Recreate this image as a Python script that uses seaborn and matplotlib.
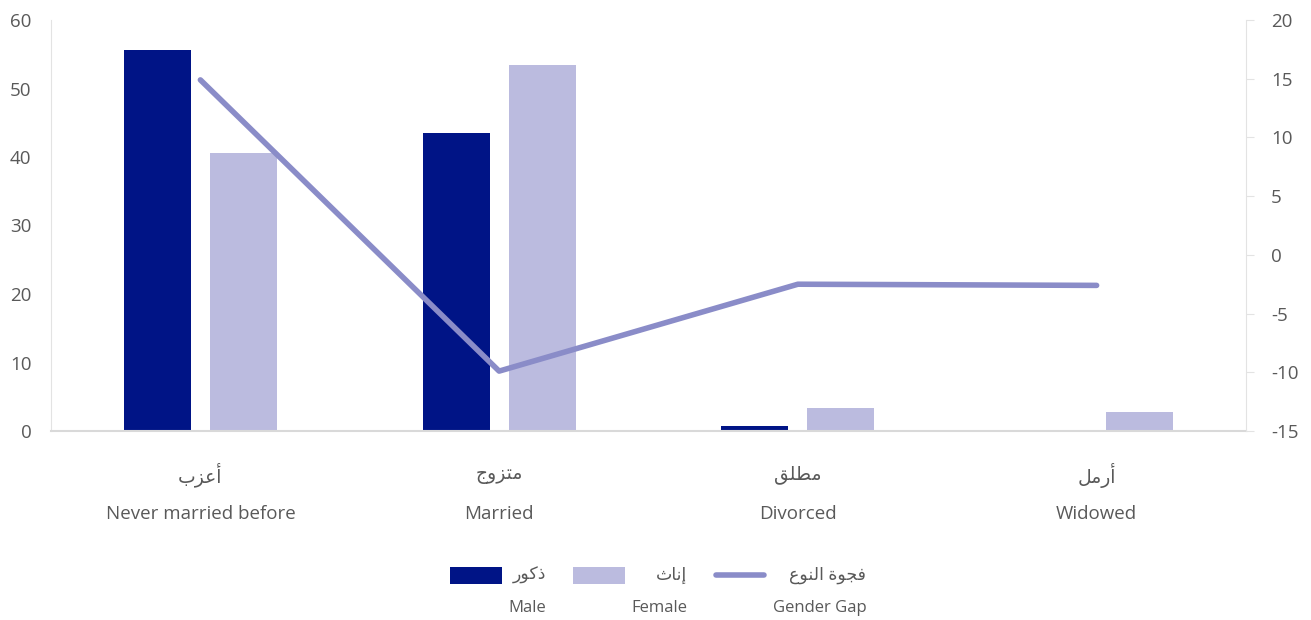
import numpy as np
import pandas as pd
import matplotlib
matplotlib.use("Agg")
import matplotlib.pyplot as plt
import matplotlib.transforms as mtransforms
from matplotlib.patches import Rectangle
from matplotlib.lines import Line2D
import seaborn as sns

# ----------------------------
# Data
# ----------------------------
categories_en = ["Never married before", "Married", "Divorced", "Widowed"]
# Arabic labels written with presentation forms in visual order,
# since matplotlib does no Arabic shaping / right-to-left layout itself
categories_ar = [
    "\ufe8f\ufeb0\ufecb\ufe83",        # أعزب
    "\ufe9d\ufeed\ufeb0\ufe98\ufee3",  # متزوج
    "\ufed6\ufee0\ufec4\ufee3",        # مطلق
    "\ufede\ufee3\ufead\ufe83",        # أرمل
]
male = [55.6, 43.5, 0.8, 0.0]
female = [40.6, 53.4, 3.4, 2.8]
gender_gap = [14.9, -9.9, -2.5, -2.6]

series_en = ["Male", "Female", "Gender Gap"]
series_ar = [
    "\ufead\ufeee\ufedb\ufeab",        # ذكور
    "\ufe99\ufe8e\ufee7\ufe87",        # إناث
    "\ufec9\ufeee\ufee8\ufedf\ufe8d \ufe93\ufeee\ufea0\ufed3",  # فجوة النوع
]

# ----------------------------
# Style
# ----------------------------
c_male = "#001486"
c_female = "#BBBBDF"
c_gap = "#8A8CC8"
c_text = "#595959"
c_spine = "#E3E3E3"

sns.set_style("white")
plt.rcParams["font.family"] = ["Open Sans", "DejaVu Sans"]
plt.rcParams["axes.unicode_minus"] = False

W, H = 1311, 620
fig = plt.figure(figsize=(W / 100, H / 100), dpi=100)
ax = fig.add_axes([51 / W, 1 - 431 / H, (1246 - 51) / W, 411 / H])

# ----------------------------
# Bars (left axis)
# ----------------------------
df = pd.DataFrame({
    "category": categories_en * 2,
    "sex": ["Male"] * len(male) + ["Female"] * len(female),
    "value": male + female,
})
sns.barplot(data=df, x="category", y="value", hue="sex",
            order=categories_en, hue_order=["Male", "Female"],
            palette=[c_male, c_female], saturation=1,
            width=0.576, gap=0.221,
            linewidth=0, errorbar=None, legend=False, ax=ax)
ax.set_xlim(-0.5, len(categories_en) - 0.5)
ax.set_ylim(0, 60)
ax.set_yticks(range(0, 61, 10))
ax.set_xlabel("")
ax.set_ylabel("")
ax.set_xticks(range(len(categories_en)))
ax.set_xticklabels([])
ax.tick_params(axis="x", length=0)
ax.tick_params(axis="y", length=0, pad=14, labelsize=13.5, labelcolor=c_text)
for s in ["top", "right"]:
    ax.spines[s].set_visible(False)
ax.spines["left"].set_color(c_spine)
ax.spines["left"].set_linewidth(0.8)
ax.spines["bottom"].set_color("#D9D9D9")
ax.spines["bottom"].set_linewidth(1.5)

# ----------------------------
# Gender gap line (right axis)
# ----------------------------
ax2 = ax.twinx()
sns.lineplot(x=np.arange(len(gender_gap)), y=gender_gap, ax=ax2,
             color=c_gap, linewidth=4, solid_capstyle="round")
ax2.set_ylim(-15, 20)
ax2.set_yticks(range(-15, 21, 5))
ax2.set_ylabel("")
ax2.tick_params(axis="y", length=6, width=0.8, color=c_spine, pad=12,
                labelsize=13.5, labelcolor=c_text)
for s in ["top", "left", "bottom"]:
    ax2.spines[s].set_visible(False)
ax2.spines["right"].set_color(c_spine)
ax2.spines["right"].set_linewidth(0.8)

# ----------------------------
# Category labels (Arabic above English)
# ----------------------------
trans = mtransforms.blended_transform_factory(ax.transData, ax.transAxes)
for i, (ar, en) in enumerate(zip(categories_ar, categories_en)):
    ax.text(i, -44 / 411, ar, transform=trans, ha="center", va="center",
            fontsize=13.5, color=c_text)
    ax.text(i, -83 / 411, en, transform=trans, ha="center", va="center",
            fontsize=13.5, color=c_text)

# ----------------------------
# Legend: swatch, Arabic label beside it, English label underneath,
# both labels right-aligned (laid out by hand in pixel units)
# ----------------------------
def fx(px):
    return px / W

def fy(py):
    return 1 - py / H

renderer = fig.canvas.get_renderer()
ar_texts = [fig.text(0, fy(575), s, ha="right", va="center", fontsize=12.5,
                     color=c_text) for s in series_ar]
en_texts = [fig.text(0, fy(608), s, ha="right", va="center", fontsize=12,
                     color=c_text) for s in series_en]
box_w = [max(a.get_window_extent(renderer).width, e.get_window_extent(renderer).width)
         for a, e in zip(ar_texts, en_texts)]

handle_w, handle_h, text_pad, col_gap = 52, 17, 7, 26
total = sum(handle_w + text_pad + b for b in box_w) + col_gap * (len(box_w) - 1)
x = 658 - total / 2
for k, (a, e, b) in enumerate(zip(ar_texts, en_texts, box_w)):
    if k < 2:
        fig.add_artist(Rectangle((fx(x), fy(575 + handle_h / 2)), fx(handle_w),
                                 handle_h / H, transform=fig.transFigure,
                                 facecolor=[c_male, c_female][k], linewidth=0))
    else:
        fig.add_artist(Line2D([fx(x + 2), fx(x + handle_w - 2)], [fy(575), fy(575)],
                              transform=fig.transFigure, color=c_gap,
                              linewidth=4, solid_capstyle="round"))
    right = x + handle_w + text_pad + b
    a.set_x(fx(right))
    e.set_x(fx(right))
    x = right + col_gap

fig.savefig("out.png", dpi=100)
plt.close(fig)
